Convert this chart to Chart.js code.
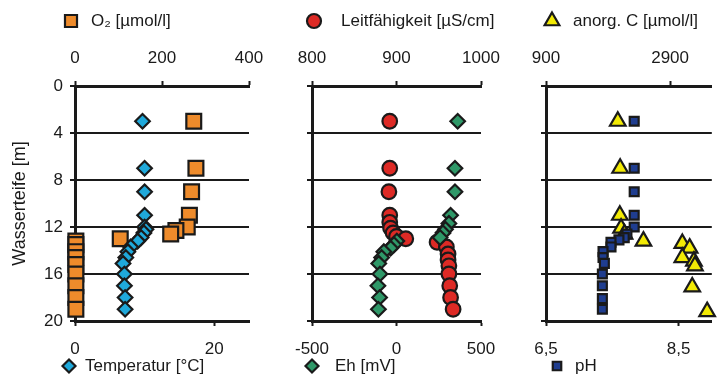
<!DOCTYPE html>
<html>
<head>
<meta charset="utf-8">
<script src="https://cdn.jsdelivr.net/npm/chart.js@4.4.1/dist/chart.umd.min.js"></script>
<style>
  html, body { margin: 0; padding: 0; background: #fff; }
  #wrap { position: relative; width: 723px; height: 381px; }
  #wrap canvas { position: absolute; left: 0; top: 0; }
</style>
</head>
<body>
<div id="wrap">
  <canvas id="panel1" width="723" height="381"></canvas>
  <canvas id="panel2" width="723" height="381"></canvas>
  <canvas id="panel3" width="723" height="381"></canvas>
</div>
<script>
// Depth axis (Wasserteife, m)
const depthTicks = [0, 4, 8, 12, 16, 20];

// O2 [µmol/l]
const o2Depth  = [3, 7, 9, 11, 12, 12.3, 12.6, 13.0, 13.2, 13.5, 14.1, 14.6, 15.2, 16, 17, 18, 19];
const o2Values = [273, 278, 268, 263, 258, 232, 220, 104, 2, 2, 2, 2, 2, 2, 2, 2, 2];

// Temperatur [°C]
const tempDepth  = [3, 7, 9, 11, 12, 12.2, 12.5, 12.9, 13.2, 13.7, 14.1, 14.6, 15.1, 16, 17, 18, 19];
const tempValues = [9.7, 10.0, 10.0, 10.0, 10.0, 10.2, 9.9, 9.5, 9.0, 8.0, 7.6, 7.3, 6.9, 7.1, 7.1, 7.2, 7.2];

// Leitfähigkeit [µS/cm]
const condDepth  = [3, 7, 9, 11, 11.6, 12.1, 12.5, 12.8, 13.0, 13.3, 13.7, 14.3, 14.8, 15.3, 16, 17, 18, 19];
const condValues = [892, 892, 891, 892, 892, 893, 896, 900, 911, 948, 959, 961, 961, 962, 962, 963, 964, 967];

// Eh [mV]
const ehDepth  = [3, 7, 9, 11, 11.7, 12.2, 12.5, 12.9, 13.2, 13.5, 13.8, 14.1, 14.6, 15.1, 16, 17, 18, 19];
const ehValues = [362, 346, 346, 320, 310, 290, 275, 258, 2, -15, -35, -75, -88, -105, -98, -110, -100, -107];

// anorg. C [µmol/l]
const carbonDepth  = [3, 7, 11, 12.1, 12.6, 13.2, 13.4, 13.8, 14.6, 14.9, 15.3, 17.1, 19.2];
const carbonValues = [2057, 2095, 2090, 2110, 2165, 2470, 3097, 3215, 3097, 3284, 3300, 3257, 3497];

// pH
const phDepth  = [3, 7, 9, 11, 12, 12.6, 12.9, 13.1, 13.3, 13.7, 14.1, 14.6, 15.1, 16, 17, 18.1, 19];
const phValues = [7.83, 7.83, 7.83, 7.83, 7.83, 7.72, 7.68, 7.6, 7.48, 7.48, 7.36, 7.36, 7.38, 7.35, 7.35, 7.35, 7.35];

// axis ticks
const o2Ticks = [0, 200, 400];
const tempTicks = [0, 20];
const condTicks = [800, 900, 1000];
const ehTicks = [-500, 0, 500];
const carbonTicks = [900, 2900];
const phTicks = [6.5, 8.5];

const FONT = '"Liberation Sans", Arial, sans-serif';
const INK = '#1a1a1a';

Chart.defaults.font.family = FONT;
Chart.defaults.font.size = 17;
Chart.defaults.color = INK;

function toPoints(depths, values) {
    return values.map((v, i) => ({ x: v, y: depths[i] }));
}

function fmt(v) {
    return String(v).replace('.', ',');
}

// draws the legend entry above and below each panel
const panelLegend = {
    id: 'panelLegend',
    afterDraw(chart, args, opts) {
        const ctx = chart.ctx;
        opts.items.forEach(item => {
            ctx.save();
            ctx.fillStyle = item.color;
            ctx.strokeStyle = INK;
            ctx.lineWidth = 2.2;
            Chart.helpers.drawPoint(ctx, { pointStyle: item.style, radius: item.radius, rotation: 0, borderWidth: 2.2 }, item.markerX, item.y);
            ctx.fillStyle = INK;
            ctx.font = '17px ' + FONT;
            ctx.textBaseline = 'middle';
            ctx.textAlign = 'left';
            ctx.fillText(item.text, item.textX, item.y);
            ctx.restore();
        });
    }
};

function xAxis(position, min, max, ticks, padding) {
    return {
        type: 'linear',
        position: position,
        min: min,
        max: max,
        afterBuildTicks: s => { s.ticks = ticks.map(v => ({ value: v })); },
        afterFit: s => { s.height = 46; },
        ticks: { padding: padding, callback: v => fmt(v), maxRotation: 0, autoSkip: false },
        grid: { drawOnChartArea: false, tickLength: 5, tickColor: INK, tickWidth: 2, color: INK },
        border: { display: true, color: INK, width: 3 }
    };
}

function buildPanel(canvasId, cfg) {
    const series = (s, axis) => ({
        label: s.label,
        xAxisID: axis,
        data: toPoints(s.depth, s.values),
        pointStyle: s.style,
        pointRadius: s.radius,
        backgroundColor: s.color,
        borderColor: INK,
        borderWidth: 2.2,
        clip: false
    });

    return new Chart(document.getElementById(canvasId), {
        type: 'scatter',
        data: {
            // bottom-axis series first so it is painted on top
            datasets: [series(cfg.bottom, 'xBottom'), series(cfg.top, 'xTop')]
        },
        options: {
            responsive: false,
            animation: false,
            devicePixelRatio: 1,
            layout: { padding: { left: cfg.left - cfg.yWidth, right: 723 - cfg.right, top: 40, bottom: 14 } },
            plugins: {
                legend: { display: false },
                tooltip: { enabled: false },
                panelLegend: { items: cfg.legend }
            },
            scales: {
                y: {
                    type: 'linear',
                    reverse: true,
                    min: 0,
                    max: 20,
                    afterBuildTicks: s => { s.ticks = depthTicks.map(v => ({ value: v })); },
                    afterFit: s => { s.width = cfg.yWidth; },
                    ticks: { display: cfg.depthLabels, padding: 7 },
                    grid: { color: INK, lineWidth: 2, tickLength: 5, tickColor: INK, tickWidth: 2 },
                    border: { display: true, color: INK, width: 3 },
                    title: { display: cfg.depthLabels, text: 'Wasserteife [m]', font: { size: 18 }, padding: 0 }
                },
                xTop: xAxis('top', cfg.top.min, cfg.top.max, cfg.top.ticks, 12),
                xBottom: xAxis('bottom', cfg.bottom.min, cfg.bottom.max, cfg.bottom.ticks, 13)
            }
        },
        plugins: [panelLegend]
    });
}

buildPanel('panel1', {
    left: 75, right: 249, yWidth: 66, depthLabels: true,
    top: { label: 'O₂ [µmol/l]', depth: o2Depth, values: o2Values, min: 0, max: 400, ticks: o2Ticks,
           style: 'rect', radius: 10.5, color: '#EE8B2B' },
    bottom: { label: 'Temperatur [°C]', depth: tempDepth, values: tempValues, min: 0, max: 25, ticks: tempTicks,
              style: 'rectRot', radius: 7.3, color: '#1FA9DB' },
    legend: [
        { text: 'O₂ [µmol/l]', style: 'rect', radius: 8.5, color: '#EE8B2B', markerX: 71, textX: 91, y: 21 },
        { text: 'Temperatur [°C]', style: 'rectRot', radius: 6.5, color: '#1FA9DB', markerX: 69, textX: 85, y: 366 }
    ]
});

buildPanel('panel2', {
    left: 312, right: 481, yWidth: 20, depthLabels: false,
    top: { label: 'Leitfähigkeit [µS/cm]', depth: condDepth, values: condValues, min: 800, max: 1000, ticks: condTicks,
           style: 'circle', radius: 7.3, color: '#DD2A25' },
    bottom: { label: 'Eh [mV]', depth: ehDepth, values: ehValues, min: -500, max: 500, ticks: ehTicks,
              style: 'rectRot', radius: 7.3, color: '#2F9868' },
    legend: [
        { text: 'Leitfähigkeit [µS/cm]', style: 'circle', radius: 7, color: '#DD2A25', markerX: 314, textX: 341, y: 21 },
        { text: 'Eh [mV]', style: 'rectRot', radius: 6.5, color: '#2F9868', markerX: 312, textX: 335, y: 366 }
    ]
});

buildPanel('panel3', {
    left: 546, right: 713, yWidth: 20, depthLabels: false,
    top: { label: 'anorg. C [µmol/l]', depth: carbonDepth, values: carbonValues, min: 900, max: 3572, ticks: carbonTicks,
           style: 'triangle', radius: 9, color: '#F2EA05' },
    bottom: { label: 'pH', depth: phDepth, values: phValues, min: 6.5, max: 9.0, ticks: phTicks,
              style: 'rect', radius: 6.3, color: '#1F3D8F' },
    legend: [
        { text: 'anorg. C [µmol/l]', style: 'triangle', radius: 8.5, color: '#F2EA05', markerX: 552, textX: 573, y: 21 },
        { text: 'pH', style: 'rect', radius: 6, color: '#1F3D8F', markerX: 557, textX: 575, y: 366 }
    ]
});
</script>
</body>
</html>
